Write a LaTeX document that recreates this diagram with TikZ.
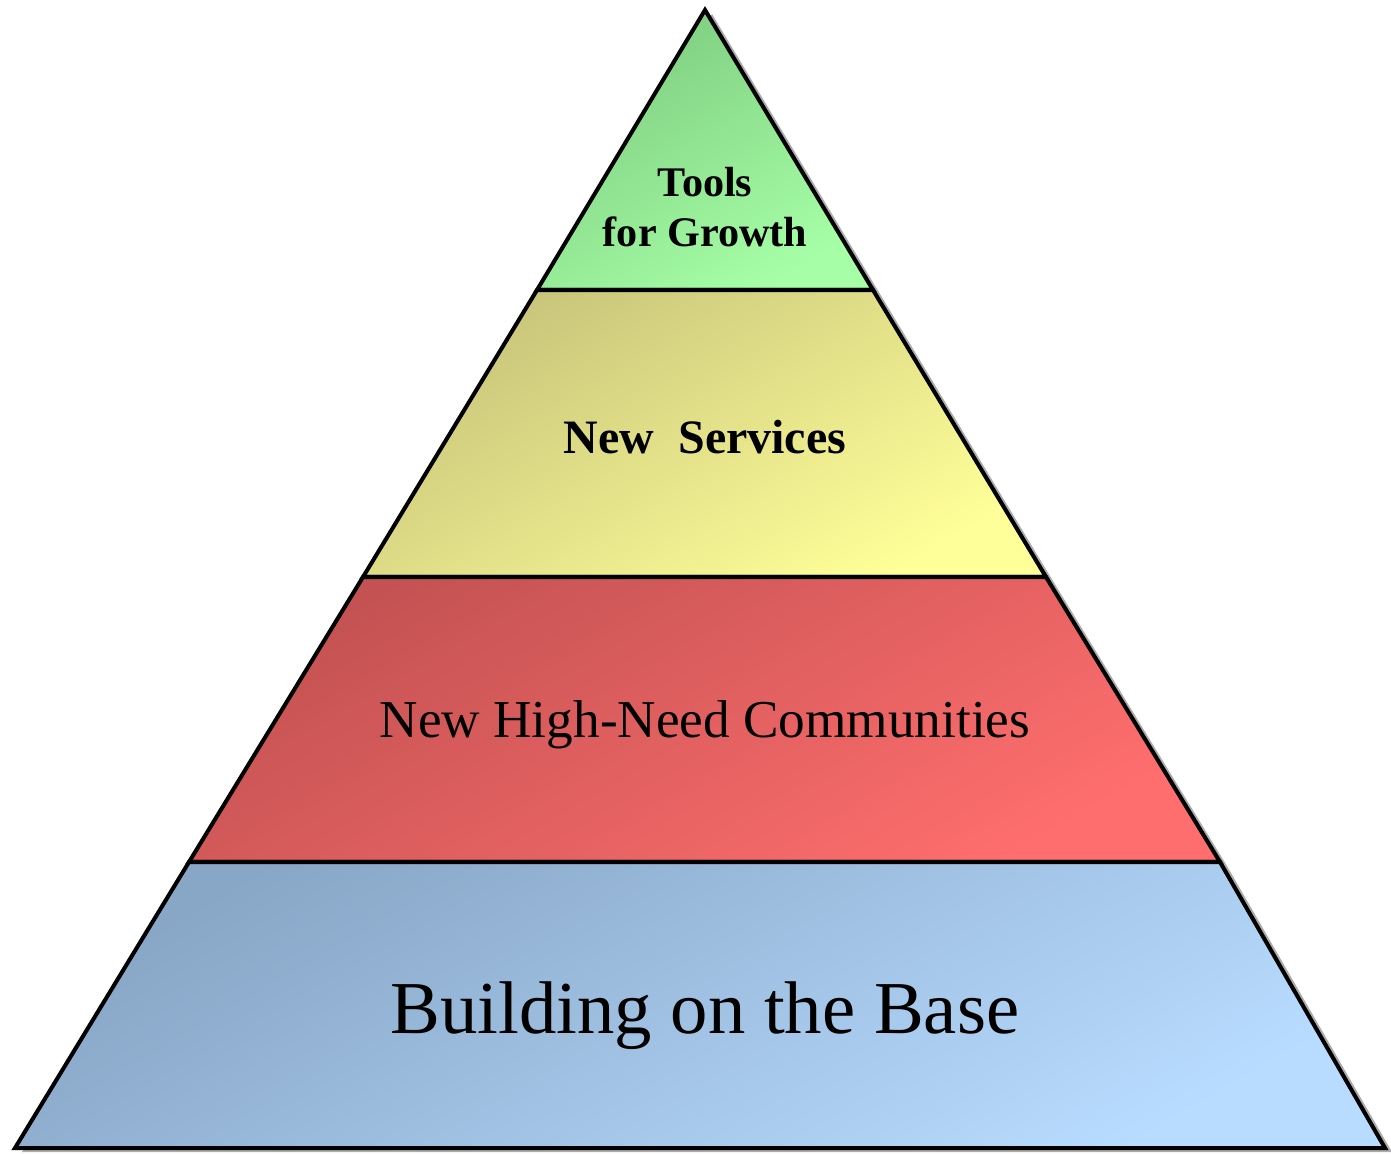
\documentclass[tikz,border=0pt]{standalone}
\usepackage{fontspec}
\setmainfont{Liberation Serif}
\definecolor{greenA}{HTML}{7ECC80}\definecolor{greenB}{HTML}{A6FFA6}
\definecolor{yellowA}{HTML}{C8C47A}\definecolor{yellowB}{HTML}{FFFF99}
\definecolor{redA}{HTML}{C45252}\definecolor{redB}{HTML}{FF6E6E}
\definecolor{blueA}{HTML}{88A6C6}\definecolor{blueB}{HTML}{B8DCFF}
\begin{document}
\begin{tikzpicture}[x=0.02cm, y=-0.02cm, every node/.style={align=center, inner sep=0pt}, layer/.style={draw=black, line width=2.3pt, line join=miter, shading=axis, shading angle=30}]
	\useasboundingbox (0,0) rectangle (1391,1153);
	\coordinate (top) at (705,10);
	\coordinate (gl) at (537,290); \coordinate (gr) at (873,290);
	\coordinate (yl) at (363,577); \coordinate (yr) at (1046,577);
	\coordinate (rl) at (189,862); \coordinate (rr) at (1220,862);
	\coordinate (bl) at (15,1148); \coordinate (br) at (1385,1148);
	\foreach \p/\q/\r/\s/\ca/\cb in {gl/top/top/gr/greenA/greenB, yl/gl/gr/yr/yellowA/yellowB, rl/yl/yr/rr/redA/redB, bl/rl/rr/br/blueA/blueB} {
		\fill[gray!65] ([shift={(7,4)}]\p) -- ([shift={(7,4)}]\q) -- ([shift={(7,4)}]\r) -- ([shift={(7,4)}]\s) -- cycle;
		\shade[layer, top color=\ca, bottom color=\cb, shading angle=30] (\p) -- (\q) -- (\r) -- (\s) -- cycle;}
	\node[font=\fontsize{24}{28}\selectfont\bfseries] (tools) at (705,207) {Tools\\for Growth};
	\node[font=\fontsize{27.3}{31}\selectfont\bfseries] (services) at (705,437) {New~~Services};
	\node[font=\fontsize{30.3}{34}\selectfont] (communities) at (705,725) {New High-Need Communities};
	\node[font=\fontsize{42.5}{46}\selectfont] (base) at (705,1016) {Building on the Base};
\end{tikzpicture}
\end{document}
